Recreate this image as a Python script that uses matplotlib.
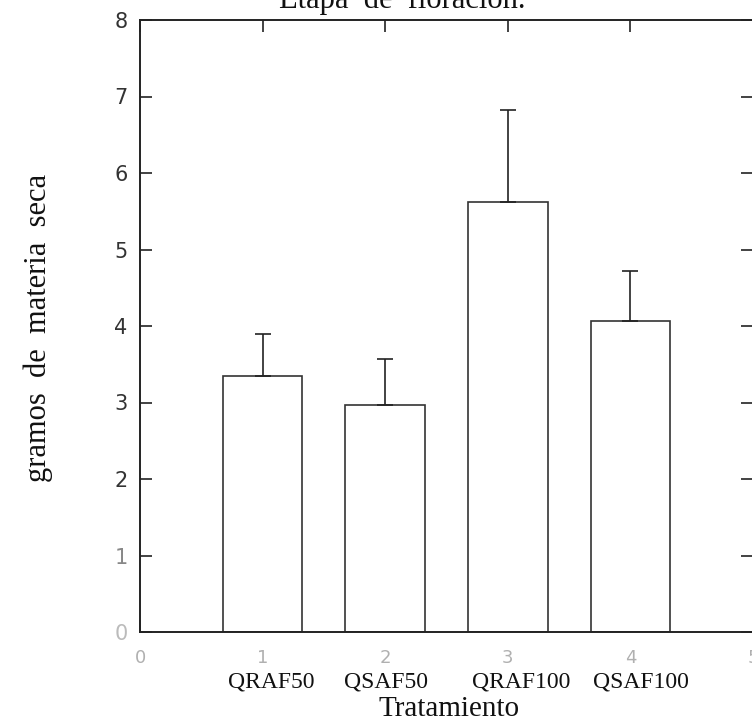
import matplotlib
matplotlib.use("Agg")
import matplotlib.pyplot as plt
import matplotlib.transforms as mtransforms

positions = [1, 2, 3, 4]
treatments = ["QRAF50", "QSAF50", "QRAF100", "QSAF100"]
means = [3.35, 2.97, 5.62, 4.07]
errors = [0.55, 0.60, 1.20, 0.65]
x_ticks = [0, 1, 2, 3, 4, 5]
x_tick_labels = ["0", "1", "2", "3", "4", "5"]
y_ticks = [0, 1, 2, 3, 4, 5, 6, 7, 8]

# layout: horizontal shift of each treatment name (typed as one line in the original)
name_shift = [0.07, 0.01, 0.11, 0.09]

W, H = 752, 724
fig = plt.figure(figsize=(W/100, H/100), dpi=100)
ax = fig.add_axes([140/W, 1-632/H, (753-140)/W, (632-20)/H])

ink = "#222222"
ax.bar(positions, means, width=0.65, color="white", edgecolor="#333333", linewidth=1.2, zorder=2)
ax.errorbar(positions, means, yerr=[[0]*4, errors], fmt="none", ecolor=ink,
            elinewidth=1.2, capsize=6, capthick=1.2, zorder=3)

ax.set_xlim(0, 5)
ax.set_ylim(0, 8)
ax.set_xticks(x_ticks)
ax.set_xticklabels(x_tick_labels, color="#b0b0b0", fontsize=13, family="DejaVu Sans")
ax.set_yticks(y_ticks)
ax.set_yticklabels([str(v) for v in y_ticks], fontsize=15, family="DejaVu Sans", color="#333333")
for lbl, c in zip(ax.get_yticklabels(), ["#bbbbbb", "#888888"]):
    lbl.set_color(c)
ax.tick_params(axis="both", direction="in", length=8.6, width=1.2, color=ink,
               top=True, right=True, labeltop=False, labelright=False)
ax.tick_params(axis="x", pad=12)
ax.tick_params(axis="y", pad=9)
for s in ax.spines.values():
    s.set_linewidth(1.4)
    s.set_color(ink)

trans = mtransforms.blended_transform_factory(ax.transData, fig.transFigure)
for p, d, name in zip(positions, name_shift, treatments):
    ax.text(p + d, 1-682/H, name, transform=trans, ha="center", va="center",
            family="Liberation Serif", fontsize=17, color="#111111")

fig.text(449/W, 1-709/H, "Tratamiento", ha="center", va="center",
         family="Liberation Serif", fontsize=21, color="#111111")
fig.text(38/W, 1-328/H, "gramos  de  materia  seca", ha="center", va="center",
         rotation=90, family="Liberation Serif", fontsize=22, color="#111111")
fig.text(402/W, 1-8/H, "Etapa  de  floración.", ha="center", va="baseline",
         family="Liberation Serif", fontsize=22, color="#111111")

fig.savefig("out.png", dpi=100)
